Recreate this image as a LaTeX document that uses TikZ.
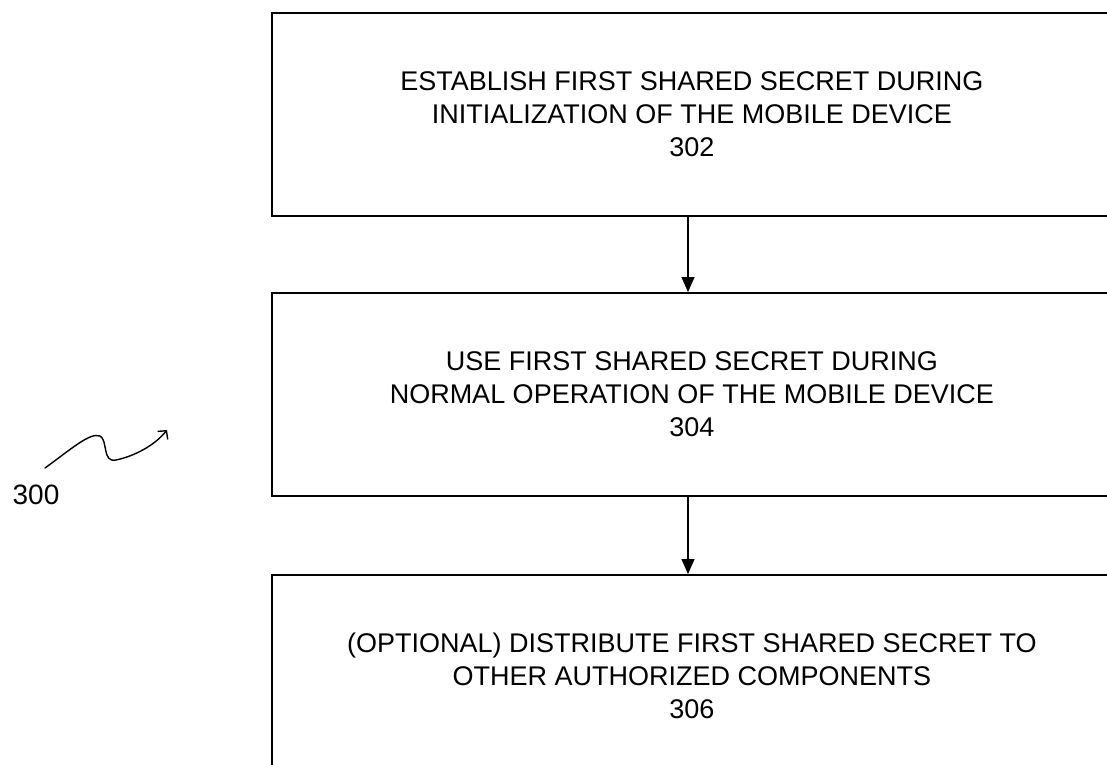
\documentclass[tikz,border=0pt]{standalone}
\usepackage{fontspec}
\setmainfont{Liberation Sans}
\usetikzlibrary{arrows.meta}
\begin{document}
\begin{tikzpicture}[x=1pt,y=-1pt,
  stepbox/.style={draw, line width=1.6pt, minimum width=840pt, minimum height=203pt,
    anchor=north west, align=center, inner sep=0pt,
    font=\fontsize{27}{33}\selectfont},
  flow/.style={-{Triangle[length=15pt,width=13pt]}, line width=1.2pt},
  squig/.style={line width=1.4pt, line cap=round, -{Straight Barb[length=6pt,width=13pt]}}]
\useasboundingbox (0,0) rectangle (1107,764);
\clip (0,0) rectangle (1107,764);
\node[stepbox] (b1) at (271,12) {ESTABLISH FIRST SHARED SECRET DURING\\INITIALIZATION OF THE MOBILE DEVICE\\302};
\node[stepbox] (b2) at (271,292) {USE FIRST SHARED SECRET DURING\\NORMAL OPERATION OF THE MOBILE DEVICE\\304};
\node[stepbox] (b3) at (271,574) {(OPTIONAL) DISTRIBUTE FIRST SHARED SECRET TO\\OTHER AUTHORIZED COMPONENTS\\306};
\coordinate (ax) at (688,0);
\draw[flow] (b1.south -| ax) -- (b2.north -| ax);
\draw[flow] (b2.south -| ax) -- (b3.north -| ax);
\node[font=\fontsize{28}{30}\selectfont] (lab) at (36,495) {300};
\coordinate (s0) at (45,468);
\coordinate (s3) at (167,430);
\draw[squig] (s0) .. controls (70,450) and (90,432) .. (100,436)
  .. controls (108,440) and (102,463) .. (116,460)
  .. controls (135,456) and (155,445) .. (s3);
\end{tikzpicture}
\end{document}
